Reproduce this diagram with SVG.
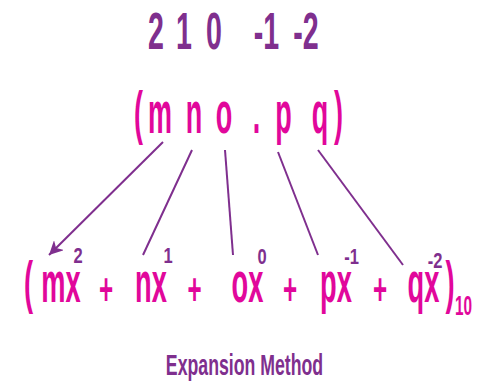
<svg xmlns="http://www.w3.org/2000/svg" width="487" height="389" viewBox="0 0 487 389">
<style>
text{font-family:"Liberation Sans",Arial,sans-serif;font-weight:bold;text-anchor:middle}
.pu{fill:#7F2F8E}
.mg{fill:#E1079B}
.top{font-size:52px}
.mid{font-size:60px}
.bot{font-size:58px}
.plus{font-size:44px}
.sup{font-size:22px}
.sub{font-size:28px}
.cap{font-size:30px}
.ln{stroke:#7F2F8E;stroke-width:2;fill:none}
</style>
<defs>
<marker id="ah" markerUnits="userSpaceOnUse" markerWidth="16" markerHeight="14" refX="14" refY="7" orient="auto">
<path d="M0,0 L14,7 L0,14 L4,7 Z" fill="#7F2F8E"/>
</marker>
</defs>
<rect width="487" height="389" fill="#fff"/>
<g id="exponents">
<text class="top pu" transform="translate(156,49) scale(0.55,1)">2</text>
<text class="top pu" transform="translate(184,49) scale(0.55,1)">1</text>
<text class="top pu" transform="translate(214,49) scale(0.55,1)">0</text>
<text class="top pu" transform="translate(266.5,49) scale(0.55,1)">-1</text>
<text class="top pu" transform="translate(306,49) scale(0.55,1)">-2</text>
</g>
<g id="number">
<text class="mid mg" transform="translate(138.5,133) scale(0.45,1)">(</text>
<text class="mid mg" transform="translate(160,133) scale(0.45,1)">m</text>
<text class="mid mg" transform="translate(194,133) scale(0.45,1)">n</text>
<text class="mid mg" transform="translate(224,133) scale(0.45,1)">o</text>
<text class="mid mg" transform="translate(256.5,133) scale(0.45,1)">.</text>
<text class="mid mg" transform="translate(283.5,133) scale(0.45,1)">p</text>
<text class="mid mg" transform="translate(320,133) scale(0.45,1)">q</text>
<text class="mid mg" transform="translate(338.5,133) scale(0.45,1)">)</text>
</g>
<g id="connectors">
<line class="ln" x1="163" y1="142" x2="49" y2="255" marker-end="url(#ah)"/>
<line class="ln" x1="192" y1="150" x2="143" y2="255"/>
<line class="ln" x1="225" y1="150" x2="233" y2="255"/>
<line class="ln" x1="278" y1="152" x2="318" y2="255"/>
<line class="ln" x1="318" y1="150" x2="403" y2="265"/>
</g>
<g id="expansion">
<text class="bot mg" transform="translate(28.5,302) scale(0.47,1)">(</text>
<text class="bot mg" transform="translate(61,302) scale(0.47,1)">mx</text>
<text class="sup pu" transform="translate(78,263) scale(0.75,1)">2</text>
<text class="plus mg" transform="translate(106,305) scale(0.55,1)">+</text>
<text class="bot mg" transform="translate(151,302) scale(0.47,1)">nx</text>
<text class="sup pu" transform="translate(168,263) scale(0.75,1)">1</text>
<text class="plus mg" transform="translate(194.5,305) scale(0.55,1)">+</text>
<text class="bot mg" transform="translate(247.5,302) scale(0.47,1)">ox</text>
<text class="sup pu" transform="translate(262,264) scale(0.75,1)">0</text>
<text class="plus mg" transform="translate(290,305) scale(0.55,1)">+</text>
<text class="bot mg" transform="translate(336,302) scale(0.47,1)">px</text>
<text class="sup pu" transform="translate(351.5,264) scale(0.75,1)">-1</text>
<text class="plus mg" transform="translate(380,305) scale(0.55,1)">+</text>
<text class="bot mg" transform="translate(423.5,302) scale(0.47,1)">qx</text>
<text class="sup pu" transform="translate(435,268) scale(0.75,1)">-2</text>
<text class="bot mg" transform="translate(450,302) scale(0.47,1)">)</text>
<text class="sub mg" transform="translate(463.5,315) scale(0.55,1)">10</text>
</g>
<g id="caption">
<text class="cap pu" transform="translate(244.5,375) scale(0.59,1)">Expansion Method</text>
</g>
</svg>
